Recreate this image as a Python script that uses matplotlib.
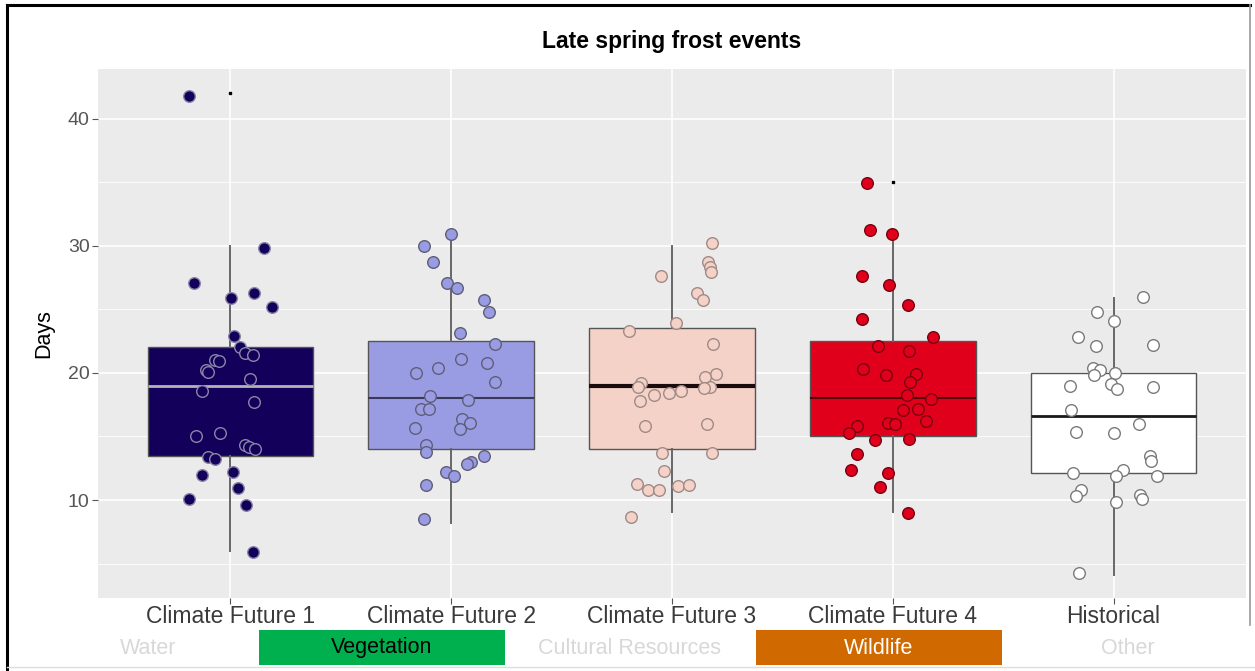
import matplotlib
matplotlib.use("Agg")
import matplotlib.pyplot as plt
from matplotlib.lines import Line2D
from matplotlib.patches import Rectangle
from matplotlib.ticker import MultipleLocator

plt.rcParams['font.family'] = ['Liberation Sans', 'DejaVu Sans']

categories = ["Climate Future 1", "Climate Future 2", "Climate Future 3",
              "Climate Future 4", "Historical"]
fill_colors = ["#12005a", "#9a9ce3", "#f5d2c8", "#e1001b", "#ffffff"]
point_edges = ["#8a86a8", "#5e5e78", "#a08a86", "#7a0010", "#7a7a7a"]
median_colors = ["#b4b4b4", "#3a3a58", "#1a0c0c", "#55000f", "#1a1a1a"]
median_widths = [2.0, 1.5, 3.0, 1.5, 2.0]

# box statistics
q1 = [13.5, 14.05, 14.05, 15.05, 12.1]
med = [19.0, 18.0, 19.0, 18.05, 16.6]
q3 = [22.05, 22.5, 23.5, 22.5, 20.0]
whis_lo = [6.0, 8.2, 9.05, 9.05, 4.1]
whis_hi = [30.0, 30.9, 30.0, 30.9, 25.9]
outliers = [[42.0], [], [], [35.0], []]

# jittered points: horizontal offset (category units) and value
cf1_off = [-0.186, 0.154, -0.165, 0.003, 0.106, 0.19, 0.014, 0.041, 0.068, 0.104,
           -0.069, -0.05, -0.113, -0.104, 0.088, -0.13, 0.107, -0.154, -0.048, 0.068,
           0.083, 0.113, -0.104, -0.069, -0.13, 0.011, 0.033, -0.19, 0.071, 0.103]
cf1_val = [41.8, 29.8, 27.1, 25.9, 26.3, 25.2, 22.9, 22.0, 21.6, 21.4,
           21.0, 20.9, 20.2, 20.05, 19.5, 18.6, 17.7, 15.0, 15.3, 14.3,
           14.2, 14.0, 13.4, 13.2, 12.0, 12.2, 10.95, 10.1, 9.65, 5.95]

cf2_off = [0.0, -0.124, -0.082, -0.017, 0.026, 0.15, 0.169, 0.038, 0.2, 0.044,
           -0.06, 0.163, -0.159, 0.2, -0.094, 0.074, -0.136, -0.101, 0.05, 0.086,
           0.041, -0.163, -0.113, -0.113, 0.147, 0.088, 0.073, -0.023, 0.011, -0.113,
           -0.125]
cf2_val = [30.9, 30.0, 28.7, 27.1, 26.7, 25.7, 24.8, 23.1, 22.3, 21.1,
           20.4, 20.8, 20.0, 19.3, 18.2, 17.85, 17.2, 17.2, 16.4, 16.1,
           15.6, 15.7, 14.3, 13.75, 13.5, 13.0, 12.8, 12.2, 11.9, 11.2,
           8.5]

cf3_off = [0.182, 0.162, 0.171, 0.175, -0.051, 0.113, 0.139, 0.018, -0.195, 0.187,
           0.198, 0.151, -0.141, -0.156, 0.172, 0.147, 0.042, -0.08, -0.013, -0.145,
           0.159, -0.121, -0.045, 0.182, -0.036, -0.157, -0.109, -0.059, 0.025, 0.077,
           -0.184]
cf3_val = [30.2, 28.7, 28.3, 27.9, 27.6, 26.25, 25.75, 23.9, 23.3, 22.3,
           19.9, 19.7, 19.2, 18.9, 18.9, 18.85, 18.6, 18.3, 18.4, 17.8,
           16.0, 15.8, 13.7, 13.7, 12.3, 11.25, 10.8, 10.8, 11.1, 11.2,
           8.7]

cf4_off = [-0.115, -0.104, -0.005, -0.141, -0.017, 0.068, -0.138, 0.181, -0.069, 0.074,
           -0.133, -0.03, 0.107, 0.077, 0.063, 0.174, 0.045, 0.114, 0.151, -0.021,
           0.009, -0.163, -0.196, -0.08, 0.074, -0.163, -0.189, -0.023, -0.056, 0.068]
cf4_val = [34.9, 31.2, 30.9, 27.6, 26.9, 25.35, 24.2, 22.8, 22.1, 21.7,
           20.3, 19.8, 19.9, 19.3, 18.3, 17.95, 17.1, 17.2, 16.2, 16.1,
           16.0, 15.8, 15.3, 14.7, 14.8, 13.65, 12.35, 12.1, 11.0, 8.95]

hist_off = [0.134, -0.076, 0.003, -0.16, -0.079, 0.18, -0.094, -0.062, -0.088, 0.005,
            -0.011, 0.014, -0.199, 0.177, -0.192, 0.115, -0.168, 0.0, 0.166, 0.171,
            0.045, -0.184, 0.011, 0.195, -0.145, -0.168, 0.121, 0.13, 0.011, -0.156]
hist_val = [25.96, 24.8, 24.1, 22.8, 22.1, 22.2, 20.4, 20.2, 19.85, 19.97,
            19.1, 18.7, 18.98, 18.9, 17.1, 16.0, 15.35, 15.3, 13.5, 13.1,
            12.4, 12.1, 11.9, 11.9, 10.8, 10.35, 10.4, 10.05, 9.85, 4.3]

offsets = [cf1_off, cf2_off, cf3_off, cf4_off, hist_off]
values = [cf1_val, cf2_val, cf3_val, cf4_val, hist_val]

bottom_labels = ["Water", "Vegetation", "Cultural Resources", "Wildlife", "Other"]
bottom_fills = [None, "#00b04f", None, "#d06a00", None]
bottom_text = ["#d8d8d8", "#000000", "#d8d8d8", "#ffffff", "#d8d8d8"]

fig = plt.figure(figsize=(12.55, 6.71), dpi=100)
ax = fig.add_axes([0.0781, 0.1088, 0.9147, 0.7884])
ax.set_facecolor("#ebebeb")

positions = list(range(1, len(categories) + 1))
stats = []
for i, name in enumerate(categories):
    stats.append(dict(label=name, q1=q1[i], med=med[i], q3=q3[i],
                      whislo=whis_lo[i], whishi=whis_hi[i], fliers=outliers[i]))

bp = ax.bxp(stats, positions=positions, widths=0.75, patch_artist=True,
            showcaps=False, zorder=2,
            whiskerprops=dict(color="#666666", linewidth=1.4),
            flierprops=dict(marker="s", markersize=2, markerfacecolor="black",
                            markeredgecolor="black"))
for i, box in enumerate(bp["boxes"]):
    box.set_facecolor(fill_colors[i])
    box.set_edgecolor("#555555")
    box.set_linewidth(1.0)
for i, m in enumerate(bp["medians"]):
    m.set_color(median_colors[i])
    m.set_linewidth(median_widths[i])

for i in range(len(categories)):
    xs = [positions[i] + o for o in offsets[i]]
    ax.scatter(xs, values[i], s=70, facecolor=fill_colors[i],
               edgecolor=point_edges[i], linewidth=1.0, zorder=3)

ax.set_xlim(0.4, 5.6)
ax.set_ylim(2.3, 43.9)
ax.yaxis.set_major_locator(MultipleLocator(10))
ax.yaxis.set_minor_locator(MultipleLocator(5))
ax.set_xticks(positions)
ax.set_xticklabels(categories)
ax.grid(which="major", color="white", linewidth=1.2, zorder=0)
ax.grid(which="minor", axis="y", color="white", linewidth=0.6, zorder=0)
ax.set_axisbelow(True)
for s in ax.spines.values():
    s.set_visible(False)
ax.tick_params(axis="both", which="major", length=4, color="#555555", width=0.8)
ax.tick_params(axis="x", labelsize=16.5, labelcolor="#3a3a3a", pad=1)
ax.tick_params(axis="y", labelsize=14, labelcolor="#555555", pad=2)
ax.tick_params(axis="y", which="minor", length=0)
ax.set_ylabel("Days", fontsize=15.5, color="black", labelpad=10)
ax.set_title("Late spring frost events", fontsize=16.5, fontweight="bold", pad=15)

# outer frame of the screenshot
frame = dict(color="black", linewidth=2.2, transform=fig.transFigure)
fig.add_artist(Line2D([7 / 1255, 7 / 1255], [0, 1 - 5 / 671], **frame))
fig.add_artist(Line2D([7 / 1255, 1250 / 1255], [1 - 5 / 671, 1 - 5 / 671], **frame))
fig.add_artist(Line2D([1250 / 1255, 1250 / 1255], [1 - 5 / 671, 1 - 625 / 671],
                      color="#999999", linewidth=1.2, transform=fig.transFigure))
fig.add_artist(Line2D([7 / 1255, 1255 / 1255], [1 - 667 / 671, 1 - 667 / 671],
                      color="#dddddd", linewidth=1.0, transform=fig.transFigure))

# bottom row of category buttons
centers = [148, 382, 630, 879, 1128]
for i, lab in enumerate(bottom_labels):
    cx = centers[i] / 1255
    if bottom_fills[i]:
        fig.add_artist(Rectangle((cx - 123 / 1255, 1 - 665 / 671), 246 / 1255, 35 / 671,
                                 facecolor=bottom_fills[i], edgecolor="none",
                                 transform=fig.transFigure))
    fig.text(cx, 1 - 648 / 671, lab, ha="center", va="center", fontsize=15.5,
             color=bottom_text[i])

fig.savefig("out.png", dpi=100)
